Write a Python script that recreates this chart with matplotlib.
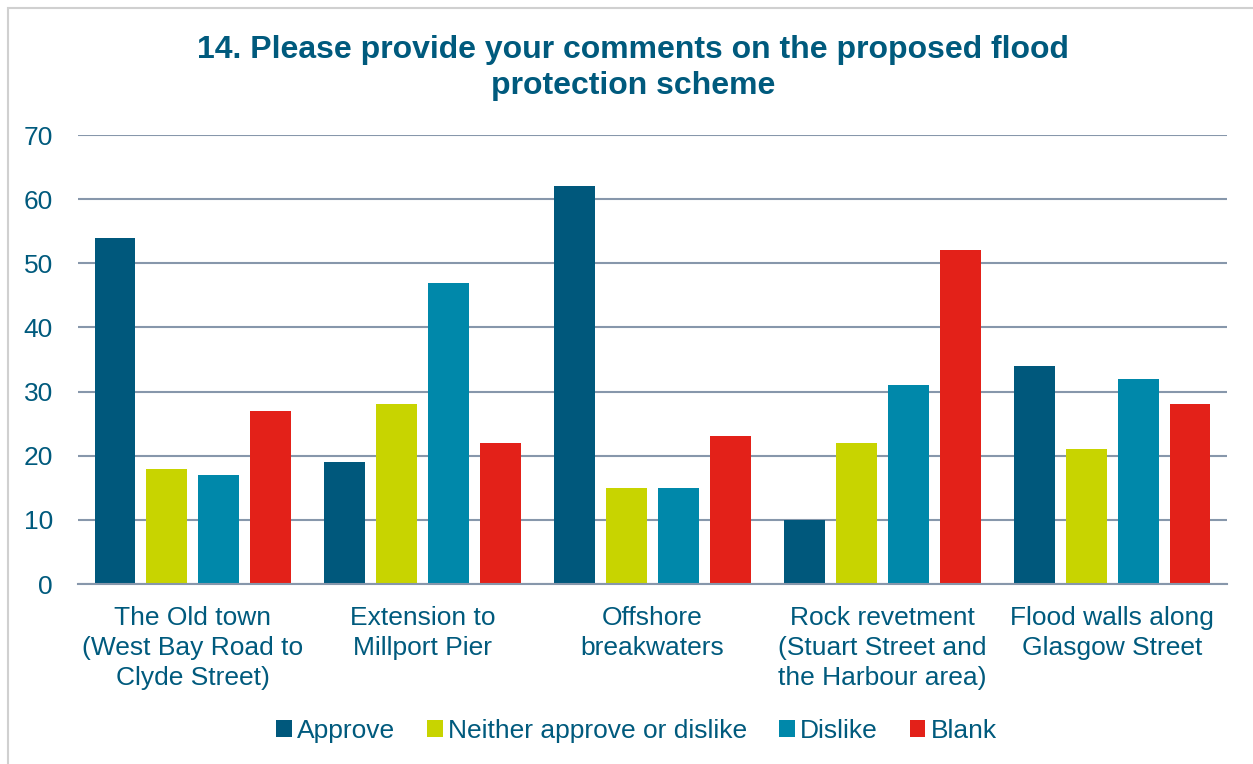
import matplotlib
import matplotlib.pyplot as plt
import numpy as np
from matplotlib.patches import Rectangle

matplotlib.use('Agg')

# chart data
categories = ['The Old town\n(West Bay Road to\nClyde Street)',
              'Extension to\nMillport Pier',
              'Offshore\nbreakwaters',
              'Rock revetment\n(Stuart Street and\nthe Harbour area)',
              'Flood walls along\nGlasgow Street']
series_names = ['Approve', 'Neither approve or dislike', 'Dislike', 'Blank']
approve = [54, 19, 62, 10, 34]
neither = [18, 28, 15, 22, 21]
dislike = [17, 47, 15, 31, 32]
blank = [27, 22, 23, 52, 28]
y_ticks = [0, 10, 20, 30, 40, 50, 60, 70]

colors = ['#00587C', '#C8D400', '#0088AA', '#E32119']
text_col = '#005A7D'
grid_col = '#8797AB'

plt.rcParams['font.family'] = ['Liberation Sans', 'DejaVu Sans']

fig = plt.figure(figsize=(12.53, 7.64), dpi=100)
ax = fig.add_axes([78 / 1253, 1 - 584 / 764, (1227 - 78) / 1253, (584 - 135) / 764])

# outer frame of the chart
fig.patches.append(Rectangle((8 / 1253, -0.01), 1.0, 1 - 8 / 764 + 0.01,
                             transform=fig.transFigure, fill=False,
                             edgecolor='#D0D0D0', linewidth=1.5))

x = np.arange(len(categories))
width = 0.178
step = 0.226
all_series = [approve, neither, dislike, blank]
for i, vals in enumerate(all_series):
    ax.bar(x + (i - 1.5) * step, vals, width, color=colors[i],
           label=series_names[i], zorder=3)

ax.set_xlim(-0.5, len(categories) - 0.5)
ax.set_ylim(0, 70)
ax.set_yticks(y_ticks)
ax.set_xticks(x)
ax.set_xticklabels(categories, linespacing=1.33)
ax.tick_params(axis='both', length=0, labelsize=19, colors=text_col)
ax.tick_params(axis='x', pad=15.5)
ax.tick_params(axis='y', pad=18)

ax.grid(axis='y', color=grid_col, linewidth=1.5, zorder=0)
for s in ['top', 'right', 'left']:
    ax.spines[s].set_visible(False)
ax.spines['bottom'].set_color(grid_col)
ax.spines['bottom'].set_linewidth(1.5)
ax.spines['bottom'].set_zorder(4)

fig.text(0.505, 1 - 68 / 764,
         '14. Please provide your comments on the proposed flood\nprotection scheme',
         ha='center', va='center', fontsize=23, fontweight='bold',
         color=text_col, linespacing=1.27)

leg = fig.legend(loc='center', bbox_to_anchor=(0.508, 1 - 731 / 764), ncol=4,
                 frameon=False, fontsize=19, handlelength=0.6, handleheight=0.6,
                 handletextpad=0.2, columnspacing=1.2)
for t in leg.get_texts():
    t.set_color(text_col)

fig.savefig('out.png', dpi=100)
plt.close()
